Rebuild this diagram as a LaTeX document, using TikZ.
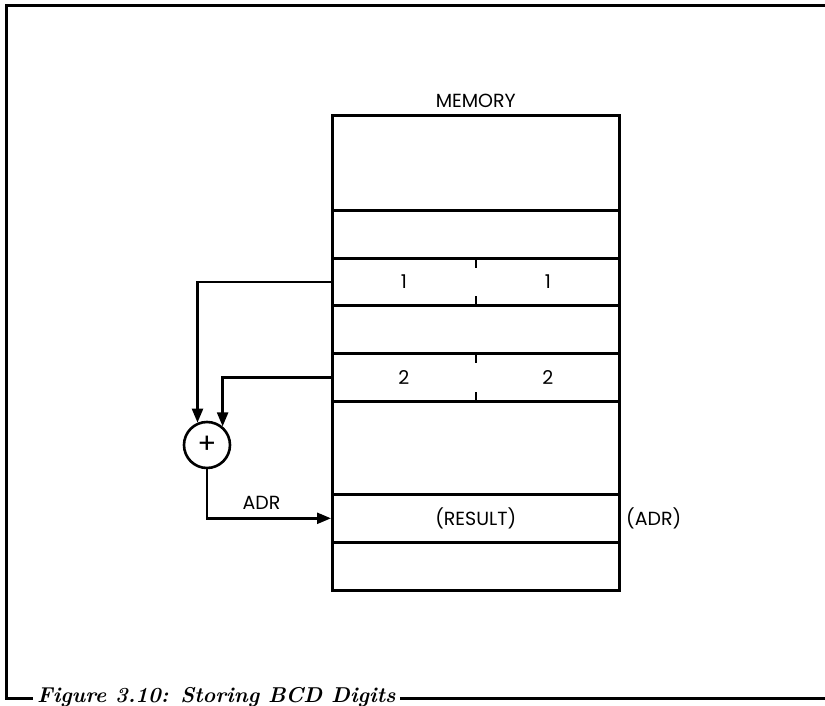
\documentclass[tikz,border=0pt]{standalone}
\usepackage{fontspec}
\newfontfamily\geofont{Poppins}
\usetikzlibrary{arrows.meta,calc,positioning}

\begin{document}
\begin{tikzpicture}[x=1pt,y=-1pt,
  every node/.style={font=\geofont\fontsize{19}{21}\selectfont},
  cell/.style={draw,line width=2.6pt,minimum width=287pt,anchor=north west,inner sep=0pt},
  arr/.style={line width=2.4pt,-{Triangle[length=14pt,width=11pt]}},
  frame/.style={line width=3pt},
  caption/.style={font=\fontsize{21.5}{23}\selectfont\bfseries\itshape,inner sep=4pt}]
  \useasboundingbox (0,0) rectangle (825,706);
  % outer frame of the figure
  \coordinate (tl) at (6,6);
  \coordinate (tr) at (825,6);
  \coordinate (bl) at (6,698);
  \coordinate (br) at (825,698);
  \node[caption,anchor=base west] (cap) at (33,702) {Figure 3.10: Storing BCD Digits};
  \draw[frame] (tr)--(tl)--(bl)--(bl -| cap.west);
  \draw[frame] (bl -| cap.east)--(br);
  % memory cells
  \node[cell,minimum height=95pt] (m0) at (331,114) {};
  \node[cell,minimum height=48pt] (m1) at (331,209) {};
  \node[cell,minimum height=47pt] (c1) at (331,257) {};
  \node[cell,minimum height=48pt] (m3) at (331,304) {};
  \node[cell,minimum height=48pt] (c2) at (331,352) {};
  \node[cell,minimum height=93pt] (m5) at (331,400) {};
  \node[cell,minimum height=48pt] (res) at (331,493) {(RESULT)};
  \node[cell,minimum height=48pt] (m7) at (331,541) {};
  \node[above=3pt of m0.north] (mem) {MEMORY};
  % BCD digit halves
  \foreach \c/\d in {c1/1,c2/2}{
    \draw[line width=2.6pt] (\c.north)--++(0,11) (\c.south)--++(0,-11);
    \node at ($(\c.center)+(-72,0)$) {\d};
    \node at ($(\c.center)+(72,0)$) {\d};
  }
  \node[right=2pt of res.east] (adr) {(ADR)};
  % adder
  \node[draw,circle,line width=2.6pt,minimum size=46pt,inner sep=0pt,
    font=\geofont\fontsize{28}{28}\selectfont] (plus) at (207,445) {+};
  \draw[arr] (c1.west) -| (plus.113);
  \draw[arr] (c2.west) -| (plus.50);
  \draw[arr] (plus.south) |- node[above=4pt,pos=0.72]{ADR} (res.west);
\end{tikzpicture}
\end{document}
